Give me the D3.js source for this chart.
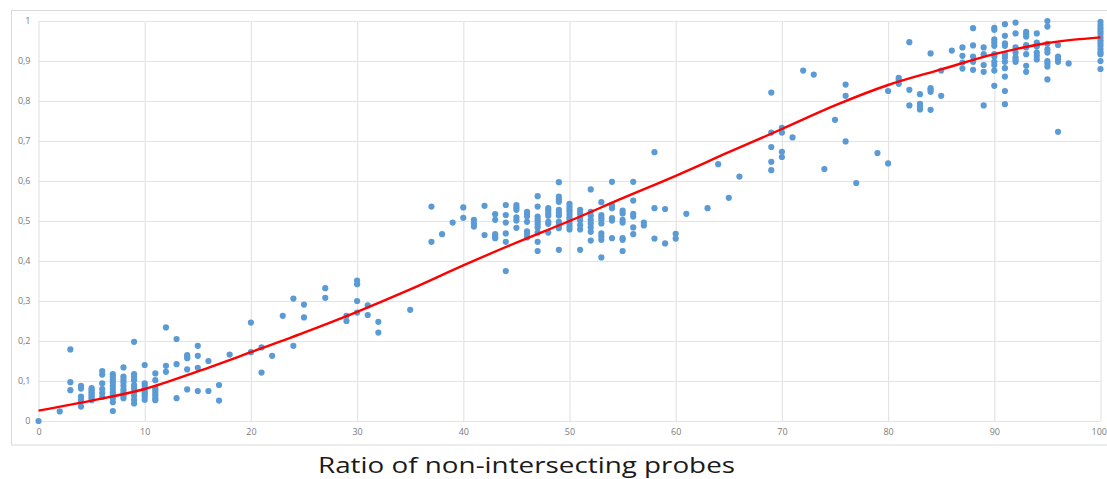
<!DOCTYPE html>
<html>
<head>
<meta charset="utf-8">
<script src="https://cdn.jsdelivr.net/npm/d3@7"></script>
<style>
  html, body { margin: 0; padding: 0; background: #fff; }
  svg { display: block; }
  .tick text { font-family: "Open Sans", "Liberation Sans", sans-serif; font-size: 9px; fill: #7a7a7a; }
</style>
</head>
<body>
<svg id="chart" width="1107" height="479"></svg>
<script>
// Probe ratio (x) per measured column, with the observed values at that ratio
const columnX = [0, 2, 3, 4, 5, 6, 7, 8, 9, 10, 11, 12, 13, 14, 15, 16, 17, 18, 20, 21, 22, 23, 24, 25, 27, 29, 30, 31, 32, 35,
  37, 38, 39, 40, 41, 42, 43, 44, 45, 46, 47, 48, 49, 50, 51, 52, 53, 54, 55, 56, 57, 58, 59, 60, 61, 63, 64, 65, 66,
  69, 70, 71, 72, 73, 74, 75, 76, 77, 79, 80, 81, 82, 83, 84, 85, 86, 87, 88, 89, 90, 91, 92, 93, 94, 95, 96, 97, 100];

const columnValues = [
  [0.0],
  [0.024],
  [0.179, 0.097, 0.077],
  [0.088, 0.081, 0.061, 0.054, 0.048, 0.036],
  [0.082, 0.077, 0.072, 0.067, 0.062, 0.057, 0.052],
  [0.125, 0.116, 0.094, 0.08, 0.07, 0.06],
  [0.117, 0.11, 0.103, 0.096, 0.088, 0.08, 0.072, 0.065, 0.057, 0.047, 0.025],
  [0.134, 0.111, 0.104, 0.097, 0.088, 0.079, 0.072, 0.063, 0.057],
  [0.198, 0.117, 0.11, 0.102, 0.09, 0.082, 0.072, 0.063, 0.053, 0.044],
  [0.14, 0.094, 0.088, 0.08, 0.072, 0.066, 0.061, 0.053],
  [0.119, 0.102, 0.082, 0.076, 0.07, 0.064, 0.057, 0.052],
  [0.234, 0.138, 0.123],
  [0.205, 0.142, 0.057],
  [0.165, 0.161, 0.157, 0.129, 0.079],
  [0.188, 0.163, 0.133, 0.075],
  [0.15, 0.075],
  [0.09, 0.051],
  [0.166],
  [0.246, 0.172],
  [0.184, 0.121],
  [0.163],
  [0.263],
  [0.306, 0.188],
  [0.291, 0.259],
  [0.332, 0.308],
  [0.263, 0.25],
  [0.351, 0.342, 0.3, 0.271],
  [0.289, 0.265],
  [0.248, 0.221],
  [0.278],
  [0.536, 0.448],
  [0.467],
  [0.496],
  [0.534, 0.508],
  [0.503, 0.494, 0.486],
  [0.538, 0.465],
  [0.517, 0.503, 0.467, 0.461, 0.457],
  [0.54, 0.515, 0.496, 0.469, 0.448, 0.375],
  [0.54, 0.534, 0.528, 0.509, 0.501, 0.483],
  [0.523, 0.518, 0.512, 0.498, 0.474, 0.468, 0.459],
  [0.562, 0.536, 0.511, 0.504, 0.498, 0.491, 0.484, 0.471, 0.448, 0.425],
  [0.532, 0.526, 0.519, 0.513, 0.498, 0.493, 0.471],
  [0.597, 0.561, 0.554, 0.548, 0.528, 0.521, 0.514, 0.498, 0.49, 0.482, 0.428],
  [0.543, 0.536, 0.529, 0.523, 0.516, 0.509, 0.503, 0.494, 0.486, 0.479],
  [0.528, 0.519, 0.509, 0.501, 0.49, 0.479, 0.428],
  [0.579, 0.523, 0.513, 0.503, 0.494, 0.484, 0.473, 0.451],
  [0.547, 0.515, 0.509, 0.503, 0.494, 0.469, 0.461, 0.453, 0.409],
  [0.598, 0.539, 0.532, 0.507, 0.501, 0.457],
  [0.526, 0.519, 0.503, 0.496, 0.457, 0.453, 0.425],
  [0.598, 0.551, 0.518, 0.511, 0.484, 0.467],
  [0.496, 0.489],
  [0.672, 0.532, 0.456],
  [0.53, 0.444],
  [0.468, 0.456],
  [0.518],
  [0.532],
  [0.642],
  [0.558],
  [0.611],
  [0.821, 0.721, 0.685, 0.648, 0.627],
  [0.733, 0.721, 0.673, 0.66],
  [0.709],
  [0.876],
  [0.866],
  [0.63],
  [0.753],
  [0.841, 0.813, 0.699],
  [0.595],
  [0.67],
  [0.825, 0.644],
  [0.858, 0.853, 0.843],
  [0.947, 0.828, 0.789],
  [0.817, 0.793, 0.786, 0.779],
  [0.919, 0.832, 0.828, 0.823, 0.778],
  [0.876, 0.813],
  [0.926],
  [0.934, 0.913, 0.896, 0.881],
  [0.982, 0.939, 0.911, 0.898, 0.878],
  [0.934, 0.917, 0.89, 0.873, 0.789],
  [0.983, 0.978, 0.954, 0.946, 0.938, 0.917, 0.911, 0.898, 0.89, 0.876, 0.838],
  [0.992, 0.963, 0.944, 0.938, 0.917, 0.909, 0.898, 0.882, 0.861, 0.825, 0.792],
  [0.996, 0.969, 0.934, 0.921, 0.909, 0.903, 0.898],
  [0.973, 0.967, 0.961, 0.94, 0.934, 0.917, 0.888, 0.873],
  [0.969, 0.946, 0.94, 0.936, 0.921, 0.913, 0.904],
  [1.0, 0.986, 0.943, 0.929, 0.921, 0.9, 0.894, 0.886, 0.854],
  [0.94, 0.911, 0.904, 0.898, 0.723],
  [0.894],
  [0.998, 0.99, 0.982, 0.975, 0.968, 0.96, 0.952, 0.945, 0.938, 0.93, 0.922, 0.917, 0.9, 0.88]
];

// Fitted trend line, sampled every 5 units of the ratio
const fitX = [0, 5, 10, 15, 20, 25, 30, 35, 40, 45, 50, 55, 60, 65, 70, 75, 80, 85, 90, 95, 100];
const fitY = [0.026, 0.051, 0.08, 0.124, 0.172, 0.221, 0.273, 0.329, 0.389, 0.446, 0.5, 0.557, 0.613, 0.672, 0.73, 0.789, 0.84, 0.879, 0.917, 0.945, 0.959];

// Axis ticks
const xTicks = [0, 10, 20, 30, 40, 50, 60, 70, 80, 90, 100];
const yTicks = [0, 0.1, 0.2, 0.3, 0.4, 0.5, 0.6, 0.7, 0.8, 0.9, 1];

const xTitle = "Ratio of non-intersecting probes";

// ---------------------------------------------------------------
const svg = d3.select("#chart");
const plot = { left: 38.5, right: 1100.5, top: 21, bottom: 421 };

const x = d3.scaleLinear().domain([0, 100]).range([plot.left, plot.right]);
const y = d3.scaleLinear().domain([0, 1]).range([plot.bottom, plot.top]);

// Decimal comma, as in the tick labels
const locale = d3.formatLocale({ decimal: ",", thousands: " ", grouping: [3], currency: ["", ""] });
const yFmt = locale.format(".1~f");

// Outer chart frame
svg.append("rect")
  .attr("x", 11.5).attr("y", 10.5)
  .attr("width", 1110).attr("height", 434.5)
  .attr("fill", "none")
  .attr("stroke", "#d9d9d9")
  .attr("stroke-width", 1);

// Horizontal grid + y labels
const gy = svg.append("g")
  .attr("transform", `translate(${plot.left},0)`)
  .call(d3.axisLeft(y).tickValues(yTicks).tickFormat(yFmt)
    .tickSize(-(plot.right - plot.left)).tickPadding(8));

// Vertical grid + x labels
const gx = svg.append("g")
  .attr("transform", `translate(0,${plot.bottom})`)
  .call(d3.axisBottom(x).tickValues(xTicks).tickFormat(d3.format("d"))
    .tickSize(-(plot.bottom - plot.top)).tickPadding(8));

[gx, gy].forEach(g => {
  g.select(".domain").remove();
  g.selectAll(".tick line").attr("stroke", "#e4e4e4").attr("stroke-width", 1.2);
});

// The last x label sits against the right edge of the frame
gx.selectAll(".tick text")
  .filter(d => d === xTicks[xTicks.length - 1])
  .attr("text-anchor", "end")
  .attr("x", 6);

// Scatter points
const points = columnX.flatMap((cx, i) => columnValues[i].map(v => ({ x: cx, y: v })));
svg.append("g")
  .selectAll("circle")
  .data(points)
  .join("circle")
  .attr("cx", d => x(d.x))
  .attr("cy", d => y(d.y))
  .attr("r", 3.1)
  .attr("fill", "#5b9bd5");

// Trend line
const line = d3.line()
  .x((d, i) => x(fitX[i]))
  .y(d => y(d))
  .curve(d3.curveCatmullRom.alpha(0.5));

svg.append("path")
  .attr("d", line(fitY))
  .attr("fill", "none")
  .attr("stroke", "#ff0000")
  .attr("stroke-width", 2.4)
  .attr("stroke-linejoin", "round");

// Axis title
svg.append("text")
  .attr("x", 318)
  .attr("y", 473)
  .attr("textLength", 417)
  .attr("lengthAdjust", "spacingAndGlyphs")
  .attr("font-family", "'Open Sans', 'Liberation Sans', sans-serif")
  .attr("font-size", 22)
  .attr("fill", "#1a1a1a")
  .text(xTitle);
</script>
</body>
</html>
